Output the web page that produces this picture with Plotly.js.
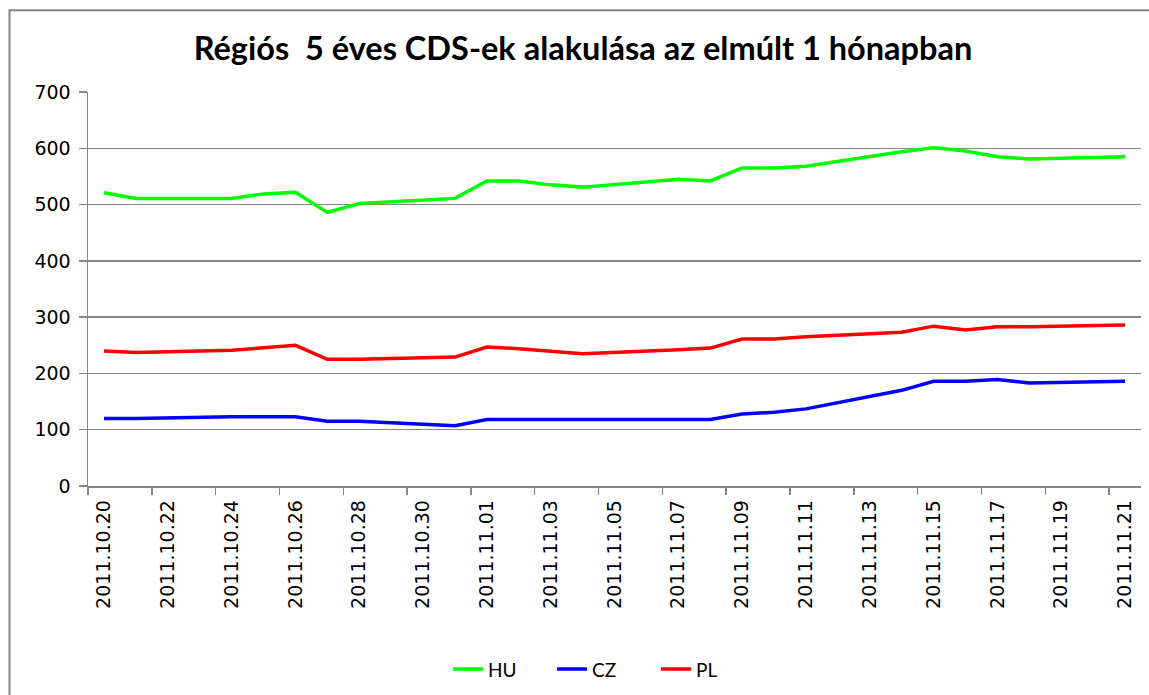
<!DOCTYPE html>
<html>
<head>
<meta charset="utf-8">
<script src="https://cdn.plot.ly/plotly-3.0.1.min.js"></script>
<style>
html,body{margin:0;padding:0;background:#fff;}
#chart{width:1149px;height:695px;}
</style>
</head>
<body>
<div id="chart"></div>
<script>
// Data (business days)
var dates = ['2011.10.20','2011.10.21','2011.10.24','2011.10.25','2011.10.26','2011.10.27','2011.10.28','2011.10.31',
             '2011.11.01','2011.11.02','2011.11.03','2011.11.04','2011.11.07','2011.11.08','2011.11.09','2011.11.10',
             '2011.11.11','2011.11.14','2011.11.15','2011.11.16','2011.11.17','2011.11.18','2011.11.21'];
var HU = [521, 511, 511, 519, 522, 486, 502, 511, 542, 542, 535, 531, 545, 542, 565, 565, 568, 594, 601, 595, 585, 581, 585];
var CZ = [120, 120, 123, 123, 123, 115, 115, 107, 118, 118, 118, 118, 118, 118, 128, 131, 137, 170, 186, 186, 189, 183, 186];
var PL = [240, 237, 241, 245, 250, 225, 225, 229, 247, 244, 239, 235, 242, 245, 261, 261, 265, 273, 284, 277, 283, 283, 286];
var tickLabels = ['2011.10.20','2011.10.22','2011.10.24','2011.10.26','2011.10.28','2011.10.30','2011.11.01','2011.11.03',
                  '2011.11.05','2011.11.07','2011.11.09','2011.11.11','2011.11.13','2011.11.15','2011.11.17','2011.11.19','2011.11.21'];
var seriesNames = ['HU','CZ','PL'];
var seriesColors = ['#00ff00','#0000ff','#ff0000'];

function toMid(d){ return d.replace(/\./g,'-') + ' 12:00'; }
var xs = dates.map(toMid);
var tv = tickLabels.map(toMid);

var vals = [HU, CZ, PL];
var traces = vals.map(function(v,i){
  return {x: xs, y: v, type:'scatter', mode:'lines', name: seriesNames[i],
          line:{color: seriesColors[i], width:3.5}};
});

var L=88, R=8, T=92, B=207.5, W=1149, H=695;
var pw = W-L-R, ph = H-T-B;
var gray = '#868686';

var layout = {
  width: W, height: H,
  margin: {l:L, r:R, t:T, b:B, pad:0},
  paper_bgcolor:'#fff', plot_bgcolor:'#fff',
  font: {family:'DejaVu Sans, sans-serif', size:19, color:'#000'},
  title: {text:'Régiós\u00a0 5 éves CDS-ek alakulása az elmúlt 1 hónapban',
          font:{family:'Lato, sans-serif', size:32.5, color:'#000', weight:'bold'},
          xref:'container', x:583/W, xanchor:'center',
          yref:'container', y:1-49/H, yanchor:'middle'},
  xaxis: {
    type:'date',
    range:['2011-10-20','2011-11-22'],
    tickmode:'array', tickvals: tv, ticktext: tickLabels,
    tickangle:-90, ticks:'', showgrid:false, zeroline:false,
    showline:true, linecolor:gray, linewidth:1.5,
    ticklabelstandoff:5,
    tickfont:{family:'DejaVu Sans, sans-serif', size:19, color:'#000'},
    minor:{tickmode:'linear', tick0:'2011-10-20', dtick:2*86400000, ticks:'outside', ticklen:7, tickwidth:1.5, tickcolor:gray, showgrid:false},
    fixedrange:true
  },
  yaxis: {
    range:[0,700], dtick:100, tick0:0,
    showgrid:true, gridcolor:gray, gridwidth:1.5,
    zeroline:false, showline:true, linecolor:gray, linewidth:1.5,
    ticks:'outside', ticklen:8, tickwidth:1.5, tickcolor:gray,
    ticklabelstandoff:4,
    tickfont:{family:'DejaVu Sans, sans-serif', size:19, color:'#000'},
    fixedrange:true
  },
  showlegend:true,
  legend:{orientation:'h', x:(448-L)/pw, xanchor:'left', y:(H-B-670)/ph, yanchor:'middle',
          font:{family:'Lato, sans-serif', size:19, color:'#000'}, bgcolor:'rgba(0,0,0,0)',
          entrywidth:59, entrywidthmode:'pixels', traceorder:'normal'},
  shapes:[{type:'rect', xref:'paper', yref:'paper',
           x0:(9.5-L)/pw, x1:(1200-L)/pw, y0:(H-B-760)/ph, y1:1+(T-10)/ph,
           line:{color:gray, width:2}, fillcolor:'rgba(0,0,0,0)', layer:'below'}]
};

Plotly.newPlot('chart', traces, layout, {displayModeBar:false, staticPlot:true});
</script>
</body>
</html>
